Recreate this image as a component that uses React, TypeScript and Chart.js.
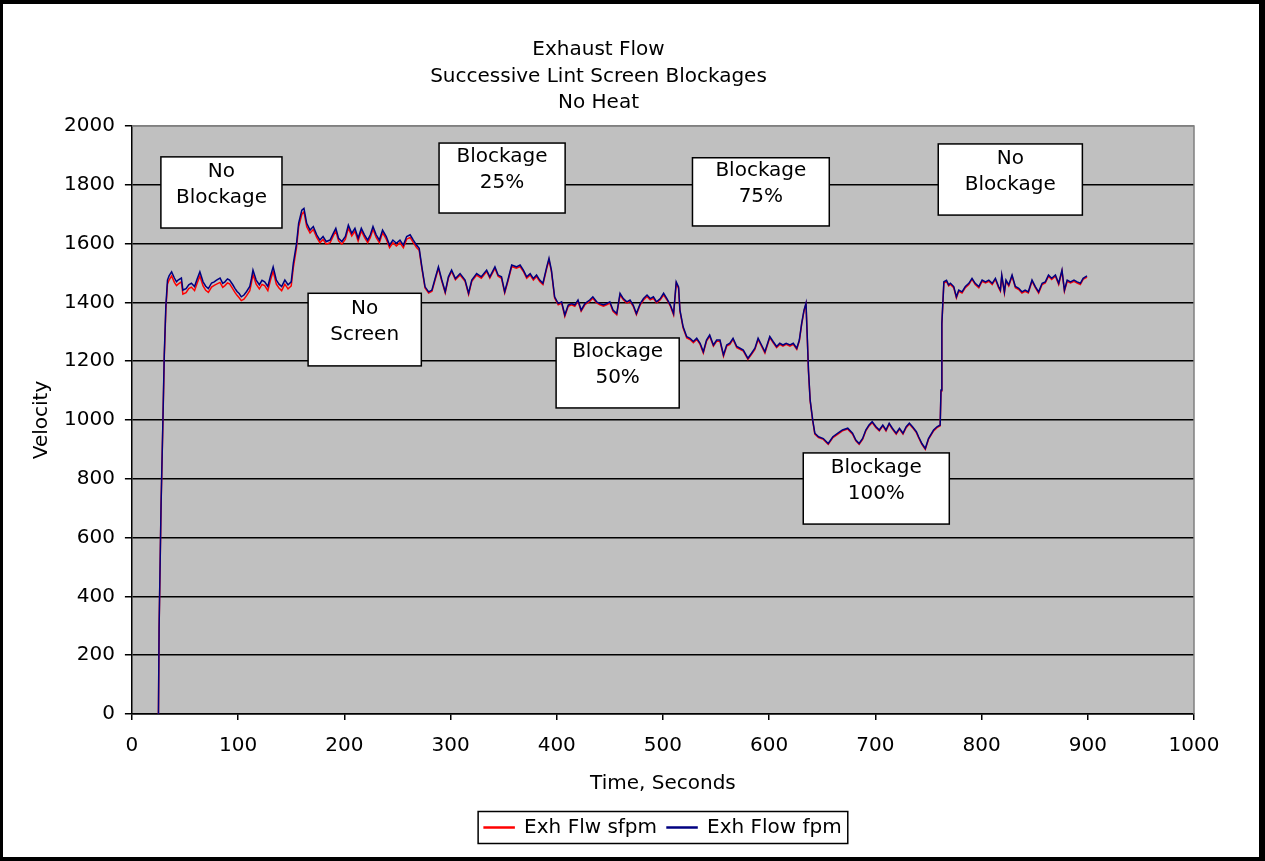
import React, { useEffect, useRef } from 'react';
import { Chart, registerables } from 'chart.js';

Chart.register(...registerables);

const FONT = "'DejaVu Sans', sans-serif";

const chartTitle = ['Exhaust Flow', 'Successive Lint Screen Blockages', 'No Heat'];
const xTitle = 'Time, Seconds';
const yTitle = 'Velocity';
const seriesNames = ['Exh Flw sfpm', 'Exh Flow fpm'];

// sampling times (seconds)
const times = [
  25, 25.6, 27.5, 29, 30.5, 32, 33.5, 35, 37.4, 40,
  42, 43.5, 46.6, 48, 51, 53.5, 56, 59, 61.5, 64,
  67, 69.5, 72, 75, 77.5, 79.7, 83, 85.5, 87.6, 90,
  92, 95, 97, 99, 101, 103, 105.5, 108, 111, 112.5,
  114, 117, 120, 122.5, 125, 128, 130.5, 133, 136, 138.5,
  141, 144, 147, 150, 152, 155, 157, 160, 162, 164.6,
  167.7, 170.8, 174, 177, 180, 183, 186.6, 189.6, 192, 194.6,
  197.7, 201, 203.8, 207, 210, 213, 216, 219, 222, 224.5,
  227, 230, 233, 236, 239.5, 242.6, 245.7, 249, 252.4, 255.6,
  258.7, 262, 265, 268, 270.5, 273, 276, 279.4, 282.5, 285.6,
  288.6, 291.8, 295, 298, 301, 304.6, 309, 313.7, 317, 320,
  324.6, 329, 334, 337, 341.8, 344.8, 348, 351, 354, 357.6,
  362, 365.5, 368.6, 371.7, 375, 378, 381, 384, 387, 390.6,
  392.7, 395, 398, 401.4, 404.6, 407.6, 410.8, 414, 417, 420,
  423, 426.5, 431, 434, 437.6, 440.7, 444, 447, 450, 453,
  456.5, 459.6, 462.7, 466, 469, 472, 475, 478.6, 481.7, 485,
  488, 491, 494, 497.5, 500.6, 503.7, 507, 510, 512.5, 514.7,
  516, 519, 522.4, 525.5, 528.6, 531.8, 535, 538, 541, 544,
  547.5, 550.6, 553.7, 557, 560, 563, 566, 569.5, 572.6, 575.7,
  580, 583.4, 586.6, 589.6, 592.8, 596, 600.6, 603.7, 607, 610,
  613, 616, 619.6, 622.7, 626, 628.4, 630.6, 632.8, 634.7, 636,
  637, 638.6, 641, 643, 646.5, 651, 655.6, 660, 664.7, 669,
  674, 678.5, 681.6, 684.7, 688, 691, 694, 697, 700.6, 703.7,
  707, 710, 713, 716, 719.6, 722.7, 726, 729, 732, 735,
  738.6, 740.7, 743.8, 747, 750, 754.8, 758, 761, 761.8, 762.6,
  764.5, 767, 769, 770.7, 773.8, 776.3, 778.5, 781.6, 784.7, 788,
  791, 794, 797.4, 800.5, 803.7, 806.8, 810, 813, 816, 817.7,
  819, 821.5, 823, 825.6, 828.7, 831.8, 835, 838, 841, 844,
  847.5, 850.6, 853.7, 857, 860, 863, 866, 869.5, 872.6, 875.7,
  878, 880.6, 883.7, 887, 890, 893, 895.6, 897.7, 899.3,
];

// Exh Flow fpm (blue)
const flowFpm = [
  0, 292, 720, 966, 1225, 1390, 1476, 1490, 1504, 1483,
  1470, 1476, 1483, 1442, 1447, 1460, 1465, 1454, 1480, 1504,
  1470, 1455, 1447, 1466, 1470, 1476, 1483, 1465, 1470, 1480,
  1476, 1460, 1448, 1437, 1430, 1419, 1425, 1437, 1454, 1480,
  1510, 1476, 1460, 1475, 1470, 1454, 1490, 1521, 1476, 1462,
  1454, 1476, 1460, 1470, 1534, 1600, 1670, 1714, 1720, 1669,
  1646, 1658, 1630, 1612, 1624, 1607, 1612, 1635, 1652, 1618,
  1607, 1624, 1663, 1635, 1652, 1618, 1652, 1630, 1612, 1630,
  1658, 1630, 1612, 1646, 1624, 1595, 1612, 1601, 1612, 1595,
  1624, 1630, 1612, 1595, 1584, 1521, 1453, 1436, 1442, 1483,
  1521, 1476, 1436, 1487, 1510, 1481, 1498, 1476, 1431, 1476,
  1498, 1487, 1510, 1487, 1521, 1493, 1487, 1436, 1476, 1527,
  1521, 1527, 1510, 1487, 1498, 1481, 1493, 1476, 1465, 1521,
  1550, 1510, 1419, 1396, 1402, 1357, 1391, 1396, 1391, 1408,
  1374, 1396, 1408, 1419, 1402, 1396, 1391, 1396, 1402, 1374,
  1362, 1431, 1413, 1402, 1408, 1391, 1362, 1396, 1413, 1425,
  1413, 1419, 1402, 1413, 1431, 1413, 1391, 1362, 1470, 1453,
  1374, 1317, 1283, 1278, 1267, 1278, 1261, 1232, 1272, 1289,
  1255, 1272, 1272, 1221, 1255, 1261, 1278, 1250, 1244, 1238,
  1210, 1227, 1244, 1278, 1255, 1232, 1284, 1267, 1250, 1261,
  1255, 1261, 1255, 1261, 1244, 1272, 1329, 1374, 1398, 1272,
  1170, 1068, 1000, 955, 943, 937, 920, 943, 955, 966,
  972, 955, 932, 920, 937, 966, 983, 994, 977, 966,
  983, 966, 989, 972, 955, 972, 955, 977, 989, 977,
  960, 943, 920, 903, 937, 966, 977, 983, 1102, 1329,
  1470, 1475, 1460, 1465, 1454, 1419, 1442, 1436, 1454, 1465,
  1482, 1465, 1454, 1476, 1470, 1476, 1465, 1482, 1454, 1442,
  1493, 1436, 1476, 1460, 1493, 1454, 1448, 1436, 1442, 1436,
  1476, 1454, 1436, 1465, 1470, 1493, 1482, 1493, 1465, 1510,
  1442, 1476, 1470, 1476, 1470, 1465, 1482, 1487, 1490,
];

// Exh Flw sfpm (red)
const flowSfpm = [
  0, 290, 716, 960, 1215, 1378, 1462, 1476, 1490, 1468,
  1457, 1462, 1470, 1428, 1433, 1447, 1452, 1440, 1466, 1490,
  1456, 1441, 1434, 1452, 1458, 1462, 1468, 1451, 1457, 1466,
  1463, 1446, 1434, 1424, 1416, 1406, 1411, 1423, 1440, 1466,
  1495, 1462, 1446, 1461, 1457, 1440, 1476, 1506, 1462, 1449,
  1440, 1462, 1446, 1456, 1518, 1586, 1657, 1700, 1708, 1657,
  1636, 1648, 1621, 1603, 1614, 1598, 1603, 1626, 1642, 1609,
  1598, 1615, 1653, 1626, 1642, 1609, 1643, 1621, 1603, 1621,
  1649, 1621, 1603, 1637, 1615, 1586, 1603, 1592, 1603, 1586,
  1615, 1621, 1603, 1587, 1577, 1516, 1449, 1432, 1438, 1478,
  1516, 1472, 1432, 1483, 1505, 1477, 1493, 1472, 1427, 1472,
  1493, 1482, 1505, 1483, 1516, 1489, 1482, 1432, 1471, 1522,
  1516, 1522, 1505, 1482, 1493, 1476, 1488, 1471, 1461, 1516,
  1544, 1505, 1415, 1392, 1398, 1353, 1387, 1392, 1387, 1404,
  1370, 1392, 1403, 1414, 1398, 1392, 1387, 1392, 1398, 1370,
  1358, 1426, 1409, 1398, 1404, 1387, 1358, 1392, 1408, 1420,
  1409, 1414, 1398, 1409, 1426, 1409, 1387, 1358, 1464, 1448,
  1370, 1313, 1279, 1274, 1263, 1274, 1257, 1228, 1268, 1285,
  1251, 1268, 1268, 1217, 1251, 1257, 1274, 1246, 1240, 1234,
  1206, 1223, 1240, 1274, 1251, 1228, 1280, 1263, 1246, 1257,
  1251, 1257, 1251, 1257, 1240, 1268, 1325, 1370, 1394, 1268,
  1166, 1065, 997, 952, 940, 934, 917, 940, 952, 963,
  969, 952, 929, 917, 934, 963, 980, 991, 974, 963,
  980, 963, 986, 969, 952, 969, 952, 974, 986, 974,
  957, 940, 917, 900, 934, 963, 974, 980, 1099, 1325,
  1466, 1471, 1456, 1461, 1450, 1415, 1438, 1432, 1450, 1461,
  1478, 1461, 1450, 1472, 1466, 1472, 1461, 1478, 1450, 1438,
  1489, 1432, 1472, 1456, 1489, 1450, 1444, 1432, 1438, 1432,
  1472, 1450, 1432, 1461, 1466, 1489, 1478, 1489, 1461, 1506,
  1438, 1472, 1466, 1472, 1466, 1461, 1478, 1483, 1486,
];

// annotation boxes (text lines and extents in data units)
const annoText = [
  ['No', 'Blockage'],
  ['No', 'Screen'],
  ['Blockage', '25%'],
  ['Blockage', '50%'],
  ['Blockage', '75%'],
  ['No', 'Blockage'],
  ['Blockage', '100%'],
];
const annoX1 = [27.3, 165.9, 289.2, 399.4, 527.8, 759.2, 632.1];
const annoX2 = [141.3, 272.5, 407.9, 515.3, 656.6, 894.9, 769.6];
const annoY1 = [1895, 1431, 1942, 1279, 1892, 1939, 888];
const annoY2 = [1653, 1184, 1704, 1041, 1660, 1697, 646];

const plotFrame = {
  id: 'plotFrame',
  beforeDraw(chart: any) {
    const { ctx, chartArea: a } = chart;
    ctx.save();
    ctx.fillStyle = '#c0c0c0';
    ctx.fillRect(a.left, a.top, a.right - a.left, a.bottom - a.top);
    ctx.restore();
  },
  beforeDatasetsDraw(chart: any) {
    const { ctx, chartArea: a } = chart;
    ctx.save();
    ctx.strokeStyle = '#808080';
    ctx.lineWidth = 1.5;
    ctx.beginPath();
    ctx.moveTo(a.left, a.top);
    ctx.lineTo(a.right, a.top);
    ctx.lineTo(a.right, a.bottom);
    ctx.stroke();
    ctx.restore();
  },
  afterDatasetsDraw(chart: any) {
    const { ctx } = chart;
    const xs = chart.scales.x;
    const ys = chart.scales.y;
    ctx.save();
    annoText.forEach((lines, i) => {
      const l = xs.getPixelForValue(annoX1[i]);
      const r = xs.getPixelForValue(annoX2[i]);
      const t = ys.getPixelForValue(annoY1[i]);
      const b = ys.getPixelForValue(annoY2[i]);
      ctx.fillStyle = '#ffffff';
      ctx.fillRect(l, t, r - l, b - t);
      ctx.strokeStyle = '#000000';
      ctx.lineWidth = 1.5;
      ctx.strokeRect(l, t, r - l, b - t);
      ctx.fillStyle = '#000000';
      ctx.font = `20px ${FONT}`;
      ctx.textAlign = 'center';
      ctx.textBaseline = 'middle';
      const cx = (l + r) / 2;
      const cy = (t + b) / 2 - 8;
      ctx.fillText(lines[0], cx, cy - 13);
      ctx.fillText(lines[1], cx, cy + 13);
    });
    ctx.restore();
  },
  afterDraw(chart: any) {
    const lg = chart.legend;
    if (!lg || !lg.legendHitBoxes || !lg.legendHitBoxes.length) return;
    const hb = lg.legendHitBoxes;
    let l = Infinity, r = -Infinity, t = Infinity, b = -Infinity;
    hb.forEach((h: any) => {
      l = Math.min(l, h.left);
      r = Math.max(r, h.left + h.width);
      t = Math.min(t, h.top);
      b = Math.max(b, h.top + h.height);
    });
    const { ctx } = chart;
    ctx.save();
    ctx.strokeStyle = '#000000';
    ctx.lineWidth = 1.5;
    ctx.strokeRect(l - 6, t - 6, r - l + 12, b - t + 12);
    ctx.restore();
  },
};

export default function App() {
  const ref = useRef<HTMLCanvasElement | null>(null);

  useEffect(() => {
    if (!ref.current) return;
    const blue = times.map((t, i) => ({ x: t, y: flowFpm[i] }));
    const red = times.map((t, i) => ({ x: t, y: flowSfpm[i] }));
    const font = { family: FONT, size: 20, weight: 'normal' as const };
    const plain = (v: any) => String(v);
    const chart = new Chart(ref.current, {
      type: 'line',
      data: {
        datasets: [
          {
            label: seriesNames[1],
            data: blue,
            borderColor: '#000080',
            backgroundColor: '#000080',
            borderWidth: 1.5,
            pointRadius: 0,
            tension: 0,
          },
          {
            label: seriesNames[0],
            data: red,
            borderColor: '#ff0000',
            backgroundColor: '#ff0000',
            borderWidth: 1.5,
            pointRadius: 0,
            tension: 0,
          },
        ],
      },
      options: {
        animation: false,
        responsive: false,
        devicePixelRatio: 1,
        layout: { padding: { left: 0, right: 65, top: 0, bottom: 9.5 } },
        plugins: {
          title: {
            display: true,
            text: chartTitle,
            color: '#000',
            font: { ...font, lineHeight: 1.325 },
            padding: { top: 33, bottom: 9.5 },
          },
          legend: {
            position: 'bottom',
            fullSize: false,
            reverse: true,
            labels: {
              color: '#000',
              font,
              boxWidth: 30,
              boxHeight: 1,
              padding: 10,
            },
          },
          tooltip: { enabled: false },
        },
        scales: {
          x: {
            type: 'linear',
            min: 0,
            max: 1000,
            ticks: { stepSize: 100, color: '#000', padding: 14, font, callback: plain },
            grid: { drawOnChartArea: false, drawTicks: true, tickLength: 6, color: '#000', lineWidth: 1.5 },
            border: { color: '#000', width: 1.5 },
            title: { display: true, text: xTitle, color: '#000', font, padding: { top: 0, bottom: 11.5 } },
          },
          y: {
            type: 'linear',
            min: 0,
            max: 2000,
            ticks: { stepSize: 200, color: '#000', padding: 10, font, callback: plain },
            grid: {
              color: (c: any) => (c.tick && c.tick.value === 2000 ? '#808080' : '#000'),
              tickColor: '#000',
              lineWidth: 1.5,
              tickLength: 7,
            },
            border: { color: '#000', width: 1.5 },
            title: { display: true, text: yTitle, color: '#000', font, padding: { top: 27, bottom: 0 } },
          },
        },
      },
      plugins: [plotFrame],
    });
    return () => chart.destroy();
  }, []);

  return (
    <div style={{ position: 'absolute', left: 0, top: 0, width: 1265, height: 861, background: '#000' }}>
      <div style={{ position: 'absolute', left: 3, top: 4, width: 1256, height: 853, background: '#fff' }}>
        <canvas ref={ref} width={1256} height={853} style={{ display: 'block', width: 1256, height: 853 }} />
      </div>
    </div>
  );
}
